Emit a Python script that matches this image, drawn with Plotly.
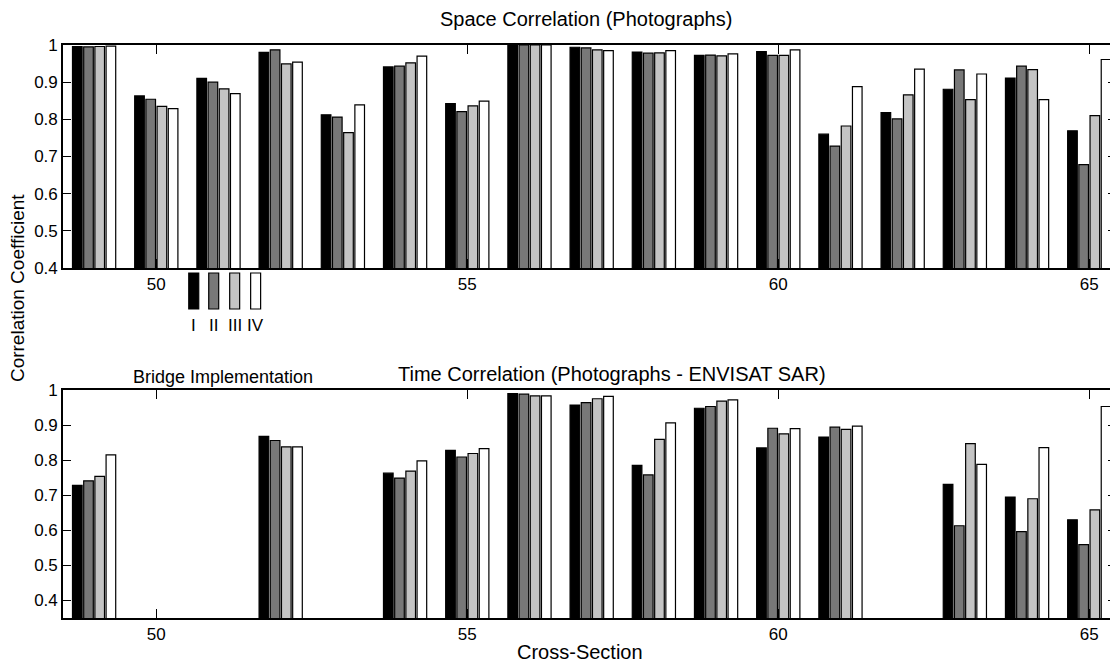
import plotly.graph_objects as go

sections = list(range(49, 66))
series_names = ["I", "II", "III", "IV"]
colors = ["#000000", "#787878", "#c4c4c4", "#ffffff"]

# Space correlation (Photographs)
space_I = [0.996, 0.863, 0.910, 0.980, 0.812, 0.941, 0.842, 1.0, 0.994, 0.981, 0.972, 0.982, 0.760, 0.818, 0.881, 0.911, 0.769]
space_II = [0.995, 0.854, 0.900, 0.987, 0.806, 0.943, 0.821, 1.0, 0.992, 0.978, 0.973, 0.972, 0.728, 0.801, 0.933, 0.943, 0.678]
space_III = [0.996, 0.835, 0.882, 0.949, 0.764, 0.952, 0.836, 1.0, 0.987, 0.979, 0.971, 0.972, 0.782, 0.866, 0.853, 0.934, 0.810]
space_IV = [0.997, 0.829, 0.869, 0.954, 0.839, 0.970, 0.849, 1.0, 0.985, 0.985, 0.976, 0.987, 0.888, 0.935, 0.922, 0.853, 0.961]

# Time correlation (Photographs - ENVISAT SAR)
time_I = [0.728, None, None, 0.868, None, 0.763, 0.828, 0.990, 0.957, 0.785, 0.948, 0.835, 0.866, None, 0.731, 0.695, 0.630]
time_II = [0.741, None, None, 0.856, None, 0.749, 0.809, 0.988, 0.964, 0.758, 0.953, 0.891, 0.894, None, 0.613, 0.596, 0.559]
time_III = [0.754, None, None, 0.838, None, 0.769, 0.819, 0.983, 0.975, 0.859, 0.968, 0.875, 0.888, None, 0.847, 0.690, 0.658]
time_IV = [0.815, None, None, 0.838, None, 0.798, 0.833, 0.983, 0.982, 0.906, 0.972, 0.890, 0.897, None, 0.788, 0.836, 0.953]

x_ticks = [50, 55, 60, 65]
y_ticks = [0.4, 0.5, 0.6, 0.7, 0.8, 0.9, 1]
y_tick_text = ["0.4", "0.5", "0.6", "0.7", "0.8", "0.9", "1"]

# page is drawn with an 8px body margin; size the figure to fill the window
OFF = 8
W, H = 1118 - OFF, 664 - OFF
PLOT_L, PLOT_R, PLOT_T, PLOT_B = 63, 1118, 45, 618  # page pixels
ML, MR, MT, MB = PLOT_L - OFF, 1118 - PLOT_R, PLOT_T - OFF, 664 - PLOT_B
PW, PH = W - ML - MR, H - MT - MB


def px(xp):
    return (xp - PLOT_L) / PW


def py(yp):
    return (PLOT_B - yp) / PH


FONT = "Liberation Sans, Arial, Helvetica, sans-serif"

fig = go.Figure()
space = [space_I, space_II, space_III, space_IV]
timec = [time_I, time_II, time_III, time_IV]
for i in range(4):
    fig.add_trace(go.Bar(x=sections, y=space[i], name=series_names[i],
                         marker=dict(color=colors[i], line=dict(color="black", width=1.2)),
                         xaxis="x", yaxis="y", showlegend=False))
for i in range(4):
    fig.add_trace(go.Bar(x=sections, y=timec[i], name=series_names[i],
                         marker=dict(color=colors[i], line=dict(color="black", width=1.2)),
                         xaxis="x2", yaxis="y2", showlegend=False))

axis_common = dict(showline=True, linecolor="black", linewidth=1.6, mirror="ticks",
                   ticks="inside", tickcolor="black", tickwidth=1.2, showgrid=False, zeroline=False,
                   tickfont=dict(size=17, color="black", family=FONT))

top_bottom = py(268)
bot_top = py(390)
XR = [48.5, 65.43]

fig.update_layout(
    width=W, height=H,
    margin=dict(l=ML, r=MR, t=MT, b=MB),
    paper_bgcolor="white", plot_bgcolor="white",
    barmode="group", bargap=0.28, bargroupgap=0.14,
    font=dict(family=FONT, color="black"),
    xaxis=dict(range=XR, domain=[0, 1], anchor="y", tickvals=x_ticks, ticklen=9, **axis_common),
    yaxis=dict(range=[0.4, 1.0], domain=[top_bottom, 1], anchor="x", tickvals=y_ticks,
               ticktext=y_tick_text, ticklen=8, **axis_common),
    xaxis2=dict(range=XR, domain=[0, 1], anchor="y2", tickvals=x_ticks, ticklen=9, **axis_common),
    yaxis2=dict(range=[0.35, 1.0], domain=[0, bot_top], anchor="x2", tickvals=y_ticks,
                ticktext=y_tick_text, ticklen=8, **axis_common),
)

annos = [
    dict(text="Space Correlation (Photographs)", x=px(587), y=py(19), size=20),
    dict(text="Time Correlation (Photographs - ENVISAT SAR)", x=px(613), y=py(374), size=20),
    dict(text="Bridge Implementation", x=px(223), y=py(377), size=18),
    dict(text="Cross-Section", x=px(581), y=py(652), size=20),
]
for a in annos:
    fig.add_annotation(text=a["text"], x=a["x"], y=a["y"], xref="paper", yref="paper",
                       showarrow=False, xanchor="center", yanchor="middle",
                       font=dict(size=a["size"], color="black", family=FONT))
fig.add_annotation(text="Correlation Coefficient", x=px(17), y=py(288), xref="paper", yref="paper",
                   showarrow=False, textangle=-90, xanchor="center", yanchor="middle",
                   font=dict(size=19, color="black", family=FONT))

# legend swatches
leg_centers = [194, 214, 235, 256]
for c, col, name in zip(leg_centers, colors, series_names):
    fig.add_shape(type="rect", xref="paper", yref="paper",
                  x0=px(c - 5), x1=px(c + 5), y0=py(309), y1=py(273),
                  fillcolor=col, line=dict(color="black", width=1.2))
    fig.add_annotation(text=name, x=px(c), y=py(325), xref="paper", yref="paper",
                       showarrow=False, xanchor="center", yanchor="middle",
                       font=dict(size=17, color="black", family=FONT))

fig.write_html("out.html")
